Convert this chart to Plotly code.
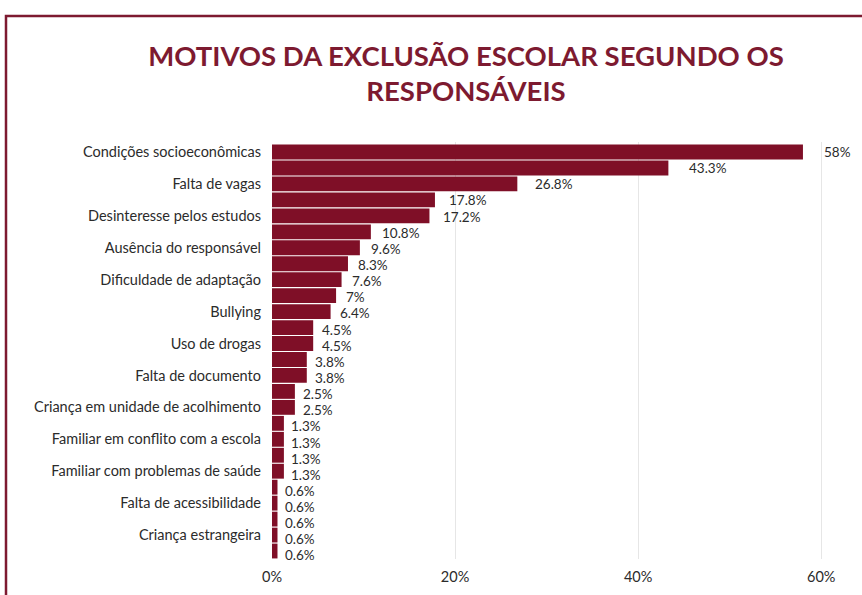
import plotly.graph_objects as go

categories = [
    "Condições socioeconômicas", "Necessidade de trabalhar", "Falta de vagas",
    "Distância da escola", "Desinteresse pelos estudos", "Problemas de saúde da criança",
    "Ausência do responsável", "Falta de transporte", "Dificuldade de adaptação",
    "Gravidez na adolescência", "Bullying", "Violência no território",
    "Uso de drogas", "Mudança de endereço", "Falta de documento",
    "Deficiência", "Criança em unidade de acolhimento", "Discriminação",
    "Familiar em conflito com a escola", "Medida socioeducativa",
    "Familiar com problemas de saúde", "Falta de uniforme",
    "Falta de acessibilidade", "Violência na escola", "Criança estrangeira", "Outros",
]
values = [58, 43.3, 26.8, 17.8, 17.2, 10.8, 9.6, 8.3, 7.6, 7, 6.4, 4.5, 4.5,
          3.8, 3.8, 2.5, 2.5, 1.3, 1.3, 1.3, 1.3, 0.6, 0.6, 0.6, 0.6, 0.6]
x_ticks = [0, 20, 40, 60]
x_tick_labels = ["0%", "20%", "40%", "60%"]
title_text = "MOTIVOS DA EXCLUSÃO ESCOLAR SEGUNDO OS<br>RESPONSÁVEIS"

BAR = "#7f0f27"
DARK = "#7d1a30"
TXT = "#2b2b2b"

fig = go.Figure()
fig.add_trace(go.Bar(
    x=values, y=categories, orientation="h",
    marker=dict(color=BAR, line=dict(width=0)),
    hoverinfo="skip",
))

annotations = []
for i, (c, v) in enumerate(zip(categories, values)):
    annotations.append(dict(
        x=v, y=c, xref="x", yref="y", text=f"{v:g}%", showarrow=False,
        xanchor="left", yanchor="middle", xshift=min(5 + 0.4 * v, 19),
        yshift=-min(i * 0.18, 4),
        font=dict(family="Lato", size=13.5, color=TXT),
    ))

T, B = 142, 36
H = 595 - T - B

fig.update_layout(
    width=862, height=595,
    margin=dict(l=272, r=38, t=T, b=B, autoexpand=False),
    paper_bgcolor="white", plot_bgcolor="white",
    bargap=0.07,
    showlegend=False,
    font=dict(family="Lato", size=14.5, color=TXT),
    title=dict(
        text=title_text, x=466 / 862, xanchor="center", xref="container",
        y=1 - 65.5 / 595, yanchor="middle", yref="container",
        font=dict(family="Lato", size=27.5, color=DARK, weight="bold"),
    ),
    xaxis=dict(
        range=[0, 60.3], tickvals=x_ticks, ticktext=x_tick_labels,
        showgrid=True, gridcolor="#e6e6e6", gridwidth=1,
        zeroline=False, showline=False, ticks="",
        tickfont=dict(family="Lato", size=14.5, color=TXT),
        ticklabelstandoff=7,
    ),
    yaxis=dict(
        categoryorder="array", categoryarray=categories, autorange="reversed",
        tickmode="array", tickvals=categories[::2],
        showgrid=False, zeroline=False, showline=False, ticks="",
        tickfont=dict(family="Lato", size=14.5, color=TXT),
        ticklabelstandoff=10,
    ),
    annotations=annotations,
    shapes=[dict(
        type="rect", xref="paper", yref="paper",
        x0=(6 - 272) / 552, x1=(900 - 272) / 552,
        y0=(T + H - 640) / H, y1=(T + H - 16) / H,
        line=dict(color=DARK, width=2.5), fillcolor="rgba(0,0,0,0)", layer="above",
    )],
)

fig.write_html(
    "out.html",
    config={"displayModeBar": False},
    post_script="document.body.style.margin='0';document.body.style.overflow='hidden';",
)
